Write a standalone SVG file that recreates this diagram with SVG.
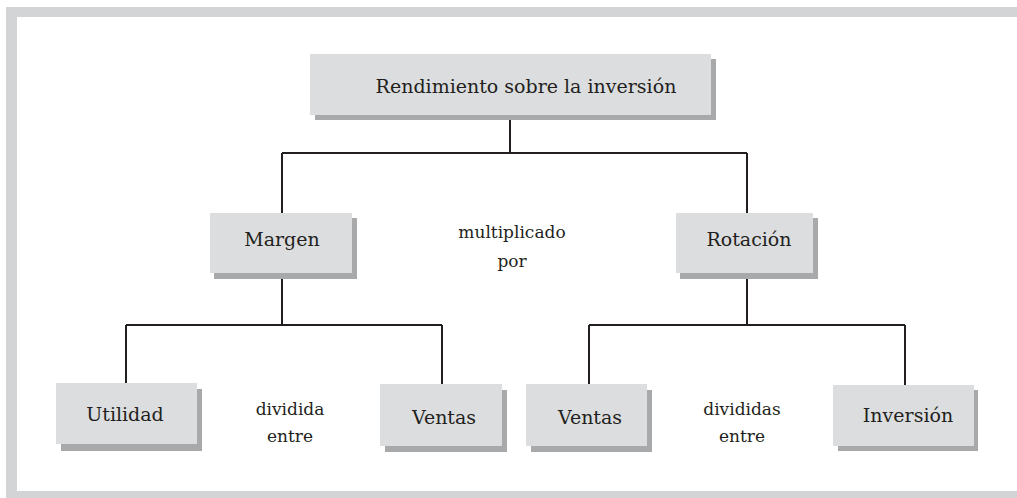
<svg xmlns="http://www.w3.org/2000/svg" width="1017" height="498" viewBox="0 0 1017 498">
<style>
.shadow{fill:#a8a9ab}
.box{fill:#dcdddf}
text{font-family:'DejaVu Serif',serif;fill:#231f20;text-anchor:middle}
.lbl{font-size:19px}
.op{font-size:17px}
.conn{fill:none;stroke:#231f20;stroke-width:2}
</style>
<rect width="1017" height="498" fill="#ffffff"/>
<g id="frame" fill="#d3d4d6">
<rect x="6" y="7" width="1011" height="10"/>
<rect x="6" y="7" width="11" height="491"/>
<rect x="6" y="491" width="1011" height="7"/>
</g>
<g id="connectors">
<path class="conn" d="M510 116V153M282 153H747M282 153V213M747 153V213"/>
<path class="conn" d="M282 274V325M126 325H442M126 325V383M442 325V384"/>
<path class="conn" d="M747 274V325M589 325H905M589 325V384M905 325V385"/>
</g>
<g id="root">
<rect class="shadow" x="315" y="59" width="401" height="61"/>
<rect class="box" x="310" y="54" width="401" height="61"/>
<text class="lbl" x="526" y="93">Rendimiento sobre la inversión</text>
</g>
<g id="margen">
<rect class="shadow" x="214" y="218" width="143" height="61"/>
<rect class="box" x="210" y="213" width="142" height="60"/>
<text class="lbl" x="282" y="246">Margen</text>
</g>
<g id="rotacion">
<rect class="shadow" x="680" y="218" width="138" height="61"/>
<rect class="box" x="676" y="213" width="137" height="60"/>
<text class="lbl" x="749" y="246">Rotación</text>
</g>
<g id="multiplicado">
<text class="op" x="512" y="238">multiplicado</text>
<text class="op" x="512" y="267">por</text>
</g>
<g id="utilidad">
<rect class="shadow" x="61" y="389" width="141" height="62"/>
<rect class="box" x="56" y="383" width="141" height="61"/>
<text class="lbl" x="125" y="421">Utilidad</text>
</g>
<g id="dividida">
<text class="op" x="290" y="415">dividida</text>
<text class="op" x="290" y="442">entre</text>
</g>
<g id="ventas1">
<rect class="shadow" x="385" y="390" width="122" height="62"/>
<rect class="box" x="380" y="384" width="122" height="62"/>
<text class="lbl" x="444" y="424">Ventas</text>
</g>
<g id="ventas2">
<rect class="shadow" x="531" y="390" width="121" height="62"/>
<rect class="box" x="526" y="384" width="121" height="62"/>
<text class="lbl" x="590" y="424">Ventas</text>
</g>
<g id="divididas">
<text class="op" x="742" y="415">divididas</text>
<text class="op" x="742" y="442">entre</text>
</g>
<g id="inversion">
<rect class="shadow" x="838" y="390" width="140" height="61"/>
<rect class="box" x="833" y="385" width="141" height="61"/>
<text class="lbl" x="908" y="422">Inversión</text>
</g>
</svg>
